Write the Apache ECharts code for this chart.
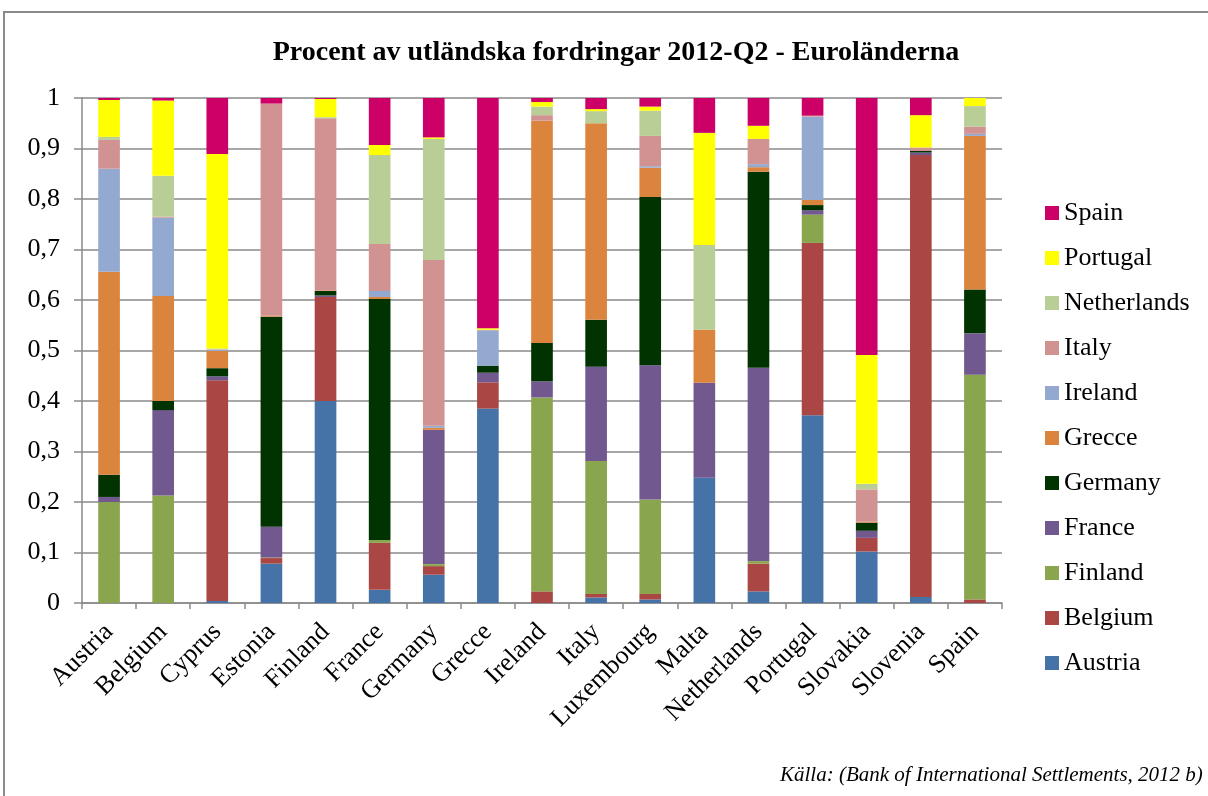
<!DOCTYPE html>
<html>
<head>
<meta charset="utf-8">
<script src="https://cdn.jsdelivr.net/npm/echarts@6/dist/echarts.min.js"></script>
<style>
html,body{margin:0;padding:0;background:#fff;}
#chart{width:1208px;height:796px;}
</style>
</head>
<body>
<div id="chart"></div>
<script>
const categories = ['Austria','Belgium','Cyprus','Estonia','Finland','France','Germany','Grecce','Ireland','Italy','Luxembourg','Malta','Netherlands','Portugal','Slovakia','Slovenia','Spain'];
const yTicks = ['0','0,1','0,2','0,3','0,4','0,5','0,6','0,7','0,8','0,9','1'];

const austria     = [0, 0, 0.004, 0.078, 0.400, 0.026, 0.056, 0.385, 0, 0.011, 0.007, 0.248, 0.023, 0.372, 0.102, 0.012, 0];
const belgium     = [0, 0, 0.437, 0.011, 0.206, 0.093, 0.017, 0.052, 0.023, 0.007, 0.011, 0, 0.055, 0.341, 0.027, 0.875, 0.007];
const finland     = [0.200, 0.213, 0, 0.001, 0, 0.006, 0.004, 0, 0.384, 0.263, 0.187, 0, 0.005, 0.056, 0, 0, 0.445];
const france      = [0.010, 0.169, 0.008, 0.061, 0.003, 0, 0.266, 0.019, 0.032, 0.187, 0.266, 0.188, 0.383, 0.009, 0.014, 0.005, 0.082];
const germany     = [0.044, 0.018, 0.016, 0.416, 0.009, 0.477, 0, 0.014, 0.076, 0.093, 0.333, 0, 0.388, 0.010, 0.016, 0.003, 0.087];
const grecce      = [0.402, 0.208, 0.034, 0.002, 0.001, 0.004, 0.004, 0, 0.440, 0.389, 0.058, 0.105, 0.009, 0.010, 0.002, 0, 0.304];
const ireland     = [0.204, 0.155, 0.002, 0, 0, 0.012, 0.004, 0.070, 0, 0, 0.003, 0, 0.006, 0.165, 0, 0, 0.004];
const italy       = [0.057, 0.002, 0.001, 0.420, 0.341, 0.093, 0.328, 0.001, 0.011, 0, 0.060, 0, 0.050, 0.002, 0.064, 0.007, 0.014];
const netherlands = [0.006, 0.081, 0.002, 0, 0.002, 0.176, 0.240, 0, 0.017, 0.024, 0.050, 0.168, 0, 0, 0.011, 0, 0.041];
const portugal    = [0.073, 0.149, 0.385, 0, 0.036, 0.020, 0.003, 0.003, 0.009, 0.004, 0.008, 0.222, 0.026, 0, 0.255, 0.064, 0.016];
const spain       = [0.004, 0.005, 0.111, 0.011, 0.002, 0.093, 0.078, 0.456, 0.008, 0.022, 0.017, 0.069, 0.055, 0.035, 0.509, 0.034, 0];

const seriesNames = ['Austria','Belgium','Finland','France','Germany','Grecce','Ireland','Italy','Netherlands','Portugal','Spain'];
const seriesData = [austria, belgium, finland, france, germany, grecce, ireland, italy, netherlands, portugal, spain];
const colors = ['#4572A7','#AA4643','#89A54E','#71588F','#003300','#DB843D','#93A9CF','#D19392','#B9CD96','#FFFF00','#CC0066'];

const FONT = '"Liberation Serif","Times New Roman",serif';
const chart = echarts.init(document.getElementById('chart'));
chart.setOption({
  animation: false,
  color: colors,
  title: {
    text: 'Procent av utländska fordringar 2012-Q2 - Euroländerna',
    left: 611, top: 34, textAlign: 'center',
    textStyle: {fontFamily: FONT, fontWeight: 'bold', fontSize: 28, color: '#000'}
  },
  legend: {
    orient: 'vertical',
    left: 1040, top: 195,
    itemWidth: 14, itemHeight: 14, itemGap: 19,
    icon: 'rect',
    data: seriesNames.slice().reverse(),
    textStyle: {fontFamily: FONT, fontSize: 26, color: '#000', lineHeight: 26}
  },
  grid: {left: 82, right: 206, top: 98, bottom: 193, containLabel: false},
  xAxis: {
    type: 'category',
    data: categories,
    axisLine: {lineStyle: {color: '#8a8a8a', width: 1.5}},
    axisTick: {show: true, length: 6, lineStyle: {color: '#8a8a8a', width: 1.5}},
    axisLabel: {rotate: 45, margin: 25, interval: 0, fontFamily: FONT, fontSize: 26, color: '#000'}
  },
  yAxis: {
    type: 'value', min: 0, max: 1, interval: 0.1,
    axisLine: {show: true, lineStyle: {color: '#8a8a8a', width: 1.5}},
    axisTick: {show: true, length: 8, lineStyle: {color: '#8a8a8a', width: 1.5}},
    axisLabel: {margin: 22, fontFamily: FONT, fontSize: 26, color: '#000',
      formatter: function (v) { return yTicks[Math.round(v * 10)]; }},
    splitLine: {lineStyle: {color: '#8a8a8a', width: 1.5}}
  },
  series: seriesNames.map(function (n, i) {
    return {name: n, type: 'bar', stack: 'total', barWidth: '40%', data: seriesData[i]};
  }),
  graphic: [
    {type: 'rect', shape: {x: 4, y: 12, width: 1300, height: 900}, style: {fill: 'none', stroke: '#8a8a8a', lineWidth: 2}, silent: true},
    {type: 'text', left: 780, top: 765, style: {text: 'Källa: (Bank of International Settlements, 2012 b)', font: 'italic 21px "Liberation Serif", serif', fill: '#000'}}
  ]
});
</script>
</body>
</html>
